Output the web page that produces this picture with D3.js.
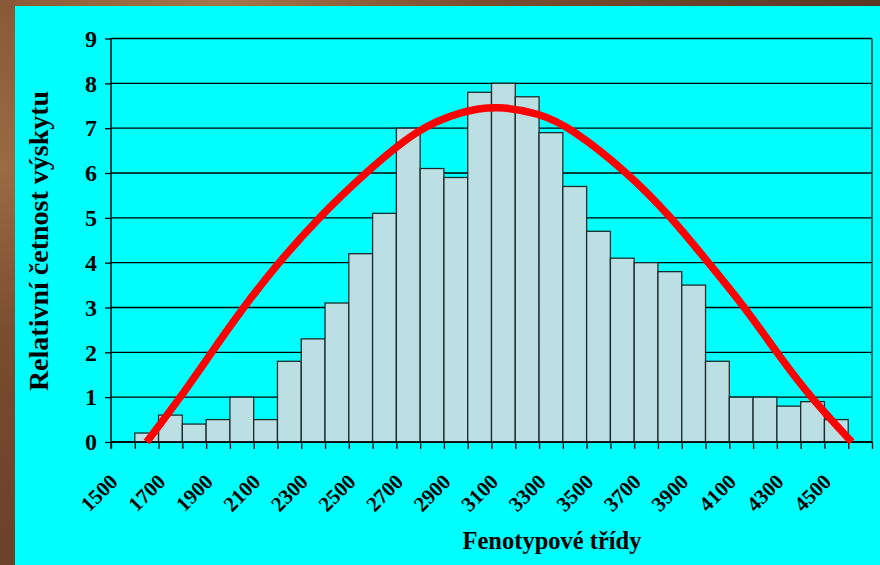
<!DOCTYPE html>
<html>
<head>
<meta charset="utf-8">
<script src="https://cdn.jsdelivr.net/npm/d3@7"></script>
<style>
body { margin: 0; background: #00ffff; overflow: hidden; }
#graph { width: 880px; height: 565px; }
</style>
</head>
<body>
<div id="graph"></div>
<script>
// class starts (each class is 100 wide)
var categories = [1500, 1600, 1700, 1800, 1900, 2000, 2100, 2200, 2300, 2400, 2500, 2600, 2700, 2800, 2900, 3000,
	3100, 3200, 3300, 3400, 3500, 3600, 3700, 3800, 3900, 4000, 4100, 4200, 4300, 4400, 4500, 4600];
var frequencies = [0, 0.2, 0.6, 0.4, 0.5, 1.0, 0.5, 1.8, 2.3, 3.1, 4.2, 5.1, 7.0, 6.1, 5.9, 7.8,
	8.0, 7.7, 6.9, 5.7, 4.7, 4.1, 4.0, 3.8, 3.5, 1.8, 1.0, 1.0, 0.8, 0.9, 0.5, 0];
var xTickLabels = [1500, 1700, 1900, 2100, 2300, 2500, 2700, 2900, 3100, 3300, 3500, 3700, 3900, 4100, 4300, 4500];
var yTicks = [0, 1, 2, 3, 4, 5, 6, 7, 8, 9];
// red curve, points
var curveX = [1650, 1793, 1923, 2056, 2204, 2372, 2568, 2790, 2975, 3123, 3300, 3437, 3675, 3858, 4012, 4166, 4299, 4440, 4615];
var curveY = [0, 1, 2, 3, 4, 5, 6, 7, 7.38, 7.5, 7.34, 7, 6, 5, 4, 3, 2, 1, 0];
var xTitle = "Fenotypové třídy";
var yTitle = "Relativní četnost výskytu";

var histogram_chart = {
	init: function () {
		var self = this;
		self.width = 880;
		self.height = 565;
		self.left = 111;
		self.right = 872;
		self.top = 38.5;
		self.bottom = 442;
		self.font = "'Liberation Serif', 'Times New Roman', serif";
		self.drawFrame();
		self.drawChart();
	},
	drawFrame: function () {
		var self = this;
		self.svg = d3.select('#graph').append('svg')
			.attr('width', self.width)
			.attr('height', self.height);

		var defs = self.svg.append('defs');
		var gTop = defs.append('linearGradient').attr('id', 'woodTop');
		gTop.append('stop').attr('offset', '0%').attr('stop-color', '#8a5a38');
		gTop.append('stop').attr('offset', '25%').attr('stop-color', '#a8754a');
		gTop.append('stop').attr('offset', '55%').attr('stop-color', '#7a4d30');
		gTop.append('stop').attr('offset', '100%').attr('stop-color', '#5a3826');
		var gLeft = defs.append('linearGradient').attr('id', 'woodLeft')
			.attr('x1', 0).attr('y1', 0).attr('x2', 0).attr('y2', 1);
		gLeft.append('stop').attr('offset', '0%').attr('stop-color', '#8a5a38');
		gLeft.append('stop').attr('offset', '30%').attr('stop-color', '#9a6a42');
		gLeft.append('stop').attr('offset', '60%').attr('stop-color', '#7a4c30');
		gLeft.append('stop').attr('offset', '100%').attr('stop-color', '#6a4129');

		self.svg.append('rect')
			.attr('x', 0).attr('y', 0)
			.attr('width', self.width).attr('height', 6)
			.attr('fill', 'url(#woodTop)');
		self.svg.append('rect')
			.attr('x', 0).attr('y', 0)
			.attr('width', 15).attr('height', self.height)
			.attr('fill', 'url(#woodLeft)');
		self.svg.append('rect')
			.attr('x', 15).attr('y', 6)
			.attr('width', self.width - 15).attr('height', self.height - 6)
			.attr('fill', '#00ffff');
	},
	drawChart: function () {
		var self = this;
		var svg = self.svg;

		var x = d3.scaleLinear()
			.domain([categories[0], categories[categories.length - 1] + 100])
			.range([self.left, self.right]);
		var y = d3.scaleLinear()
			.domain([0, 9])
			.range([self.bottom, self.top]);

		// gridlines
		svg.append('g')
			.attr('class', 'grid')
			.selectAll('line')
			.data(yTicks)
			.enter().append('line')
			.attr('x1', self.left).attr('x2', self.right)
			.attr('y1', function (d) { return y(d); })
			.attr('y2', function (d) { return y(d); })
			.attr('stroke', '#000')
			.attr('stroke-width', 1.3);

		// right border of plot area
		svg.append('line')
			.attr('x1', self.right).attr('x2', self.right)
			.attr('y1', self.top).attr('y2', self.bottom)
			.attr('stroke', '#0b5e5e')
			.attr('stroke-width', 1.8);

		// bars
		var barData = categories.map(function (c, i) { return { start: c, value: frequencies[i] }; })
			.filter(function (d) { return d.value > 0; });
		svg.append('g')
			.attr('class', 'bars')
			.selectAll('rect')
			.data(barData)
			.enter().append('rect')
			.attr('x', function (d) { return x(d.start); })
			.attr('y', function (d) { return y(d.value); })
			.attr('width', function (d) { return x(d.start + 100) - x(d.start); })
			.attr('height', function (d) { return y(0) - y(d.value); })
			.attr('fill', '#bbdfe3')
			.attr('stroke', '#1c2c2c')
			.attr('stroke-width', 1.3);

		// x axis ticks
		var xTickValues = categories.concat([categories[categories.length - 1] + 100]);
		var xAxis = svg.append('g')
			.attr('transform', 'translate(0,' + self.bottom + ')')
			.call(d3.axisBottom(x).tickValues(xTickValues).tickSize(7).tickFormat(''));
		xAxis.select('.domain').remove();
		xAxis.selectAll('line').attr('stroke', '#000').attr('stroke-width', 1.3);

		svg.append('line')
			.attr('x1', self.left).attr('x2', self.right)
			.attr('y1', self.bottom).attr('y2', self.bottom)
			.attr('stroke', '#000').attr('stroke-width', 1.5);

		svg.append('g')
			.attr('class', 'x-labels')
			.selectAll('text')
			.data(xTickLabels)
			.enter().append('text')
			.attr('transform', function (d) { return 'translate(' + (x(d) + 8) + ',483) rotate(-45)'; })
			.attr('text-anchor', 'end')
			.attr('font-family', self.font)
			.attr('font-weight', 'bold')
			.attr('font-size', 21)
			.attr('fill', '#000')
			.text(function (d) { return d; });

		// y axis
		var yAxis = svg.append('g')
			.attr('transform', 'translate(' + self.left + ',0)')
			.call(d3.axisLeft(y).tickValues(yTicks).tickSize(6).tickPadding(8));
		yAxis.select('.domain').remove();
		yAxis.selectAll('line').attr('stroke', '#000').attr('stroke-width', 1.3);
		yAxis.selectAll('text')
			.attr('font-family', self.font)
			.attr('font-weight', 'bold')
			.attr('font-size', 24)
			.attr('fill', '#000');

		svg.append('line')
			.attr('x1', self.left).attr('x2', self.left)
			.attr('y1', self.top).attr('y2', self.bottom + 7)
			.attr('stroke', '#000').attr('stroke-width', 1.5);

		// red curve
		var curvePts = curveX.map(function (v, i) { return [v, curveY[i]]; });
		var line = d3.line()
			.x(function (d) { return x(d[0]); })
			.y(function (d) { return y(d[1]); })
			.curve(d3.curveBasis);
		svg.append('path')
			.datum(curvePts)
			.attr('d', line)
			.attr('fill', 'none')
			.attr('stroke', '#ff0000')
			.attr('stroke-width', 7.5);

		// titles
		svg.append('text')
			.attr('x', 552)
			.attr('y', 549)
			.attr('text-anchor', 'middle')
			.attr('font-family', self.font)
			.attr('font-weight', 'bold')
			.attr('font-size', 24.5)
			.text(xTitle);

		svg.append('text')
			.attr('transform', 'translate(47.5,241) rotate(-90)')
			.attr('text-anchor', 'middle')
			.attr('font-family', self.font)
			.attr('font-weight', 'bold')
			.attr('font-size', 28)
			.text(yTitle);
	}
};

histogram_chart.init();
</script>
</body>
</html>
